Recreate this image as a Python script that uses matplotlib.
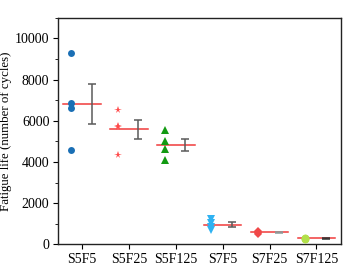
import matplotlib
matplotlib.use("Agg")
import matplotlib.pyplot as plt
from matplotlib.ticker import MultipleLocator
import numpy as np

plt.rcParams['font.family'] = ['Liberation Serif', 'DejaVu Serif']

groups = ["S5F5", "S5F25", "S5F125", "S7F5", "S7F25", "S7F125"]
values = [
    [9300, 6850, 6600, 4600],
    [6500, 5750, 5700, 4350],
    [5550, 5000, 4650, 4100],
    [1250, 1050, 850, 700],
    [650, 600, 560, 500],
    [330, 300, 270, 250],
]
means = [6830, 5575, 4825, 960, 580, 290]
errors = [965, 450, 305, 125, 30, 20]

markers = ["o", "*", "^", "v", "D", "o"]
colors = ["#1a6fb5", "#ff4b4b", "#129a12", "#2fb2f2", "#f04848", "#b2e04a"]
msizes = [5, 5.5, 5.5, 5.5, 4.5, 5.5]
err_colors = ["#5a5a5a", "#5a5a5a", "#5a5a5a", "#5a5a5a", "#8a9a9a", "#333333"]

fig = plt.figure(figsize=(3.46, 2.65), dpi=100)
ax = fig.add_axes([0.167, 0.078, 0.818, 0.855])

x = np.arange(1, len(groups) + 1)
for i, g in enumerate(groups):
    xi = x[i]
    ax.plot(np.full(len(values[i]), xi - 0.24), values[i], linestyle="none",
            marker=markers[i], color=colors[i], markersize=msizes[i],
            markeredgewidth=0, zorder=3)
    ax.plot([xi - 0.4, xi + 0.4], [means[i], means[i]], color="#f03a3a",
            lw=1.1, zorder=2)
    ax.errorbar(xi + 0.2, means[i], yerr=errors[i], color=err_colors[i],
                capsize=3, elinewidth=1.1, capthick=1.1, zorder=4)

ax.set_xlim(0.48, 6.52)
ax.set_ylim(0, 11000)
ax.set_xticks(x)
ax.set_xticklabels(groups)
ax.set_yticks([0, 2000, 4000, 6000, 8000, 10000])
ax.yaxis.set_minor_locator(MultipleLocator(1000))
ax.tick_params(axis="both", labelsize=10, direction="out", length=3.5, width=0.8,
               top=False, right=False, pad=2.5)
ax.tick_params(axis="y", which="minor", length=2, width=0.6)
ax.set_ylabel("Fatigue life (number of cycles)", fontsize=9.3)
ax.yaxis.set_label_coords(-0.162, 0.5)
for s in ax.spines.values():
    s.set_linewidth(1.0)
    s.set_color("#222222")

fig.savefig("out.png", dpi=100)
